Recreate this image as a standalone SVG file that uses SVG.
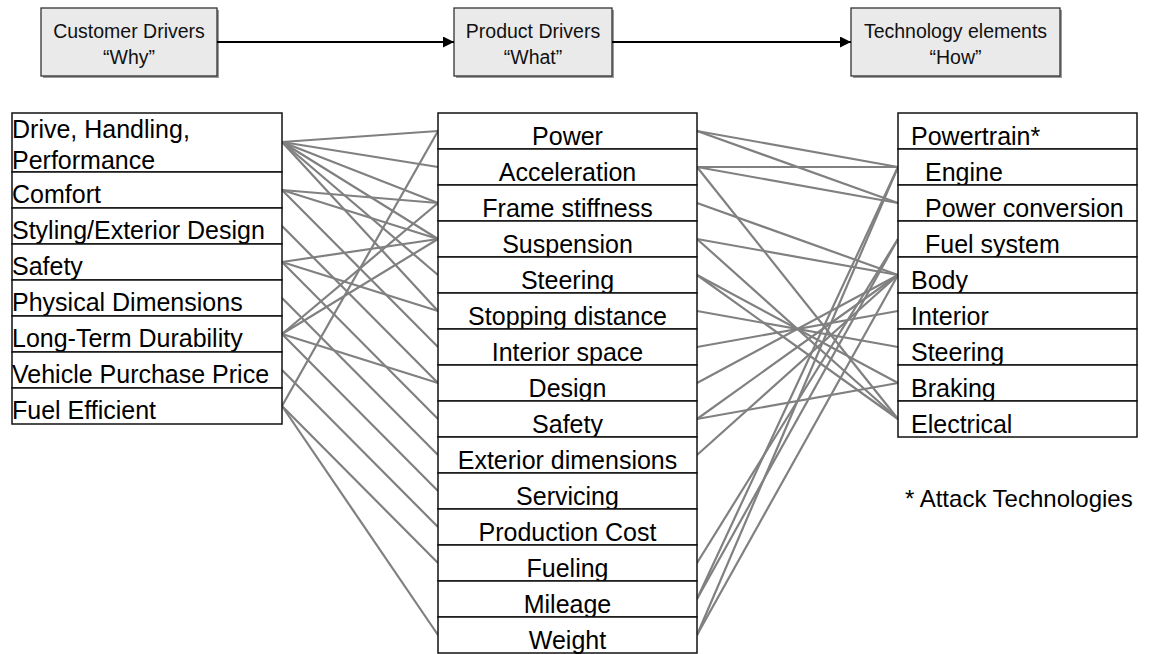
<svg xmlns="http://www.w3.org/2000/svg" width="1151" height="654" viewBox="0 0 1151 654">
  <style>
    .hdr { fill: #eaeaea; stroke: #333; stroke-width: 1.3; }
    .hdr-shadow { fill: #9a9a9a; }
    .hdr-text { font-family: "Liberation Sans", Arial, sans-serif; font-size: 19.5px; fill: #111; text-anchor: middle; }
    .cell { fill: #fff; stroke: #111; stroke-width: 1.5; }
    .lbl { font-family: "Liberation Sans", Arial, sans-serif; font-size: 25px; fill: #000; }
    .mid { text-anchor: middle; }
    .flow { stroke: #000; stroke-width: 2; fill: none; }
    .link { stroke: #808080; stroke-width: 2.2; fill: none; }
  </style>
  <defs>
    <marker id="arrow" viewBox="0 0 10 10" refX="10" refY="5" markerWidth="5.5" markerHeight="5.5" orient="auto" markerUnits="strokeWidth">
      <path d="M0,0 L10,5 L0,10 Z" fill="#000"/>
    </marker>
  </defs>
  <rect width="1151" height="654" fill="#fff"/>

  <!-- column headers -->
  <g id="hdr-why">
    <rect class="hdr-shadow" x="43" y="10" width="176" height="68"/>
    <rect class="hdr" x="41" y="8" width="176" height="68"/>
    <text class="hdr-text" x="129" y="38">Customer Drivers</text>
    <text class="hdr-text" x="129" y="64">“Why”</text>
  </g>
  <g id="hdr-what">
    <rect class="hdr-shadow" x="456" y="10" width="158" height="68"/>
    <rect class="hdr" x="454" y="8" width="158" height="68"/>
    <text class="hdr-text" x="533" y="38">Product Drivers</text>
    <text class="hdr-text" x="533" y="64">“What”</text>
  </g>
  <g id="hdr-how">
    <rect class="hdr-shadow" x="853" y="10" width="209" height="68"/>
    <rect class="hdr" x="851" y="8" width="209" height="68"/>
    <text class="hdr-text" x="955.5" y="38">Technology elements</text>
    <text class="hdr-text" x="955.5" y="64">“How”</text>
  </g>

  <!-- header flow arrows -->
  <g id="flow-arrows">
    <line class="flow" x1="217" y1="42" x2="454" y2="42" marker-end="url(#arrow)"/>
    <line class="flow" x1="612" y1="42" x2="851" y2="42" marker-end="url(#arrow)"/>
  </g>

  <!-- mapping links -->
  <g id="links">
    <!-- customer drivers to product drivers -->
    <line class="link" x1="282" y1="142" x2="438" y2="131"/>
    <line class="link" x1="282" y1="142" x2="438" y2="167"/>
    <line class="link" x1="282" y1="142" x2="438" y2="203"/>
    <line class="link" x1="282" y1="142" x2="438" y2="239"/>
    <line class="link" x1="282" y1="142" x2="438" y2="275"/>
    <line class="link" x1="282" y1="142" x2="438" y2="311"/>
    <line class="link" x1="282" y1="190" x2="438" y2="203"/>
    <line class="link" x1="282" y1="190" x2="438" y2="239"/>
    <line class="link" x1="282" y1="190" x2="438" y2="347"/>
    <line class="link" x1="282" y1="226" x2="438" y2="383"/>
    <line class="link" x1="282" y1="262" x2="438" y2="239"/>
    <line class="link" x1="282" y1="262" x2="438" y2="311"/>
    <line class="link" x1="282" y1="262" x2="438" y2="419"/>
    <line class="link" x1="282" y1="298" x2="438" y2="455"/>
    <line class="link" x1="282" y1="334" x2="438" y2="203"/>
    <line class="link" x1="282" y1="334" x2="438" y2="239"/>
    <line class="link" x1="282" y1="334" x2="438" y2="383"/>
    <line class="link" x1="282" y1="334" x2="438" y2="491"/>
    <line class="link" x1="282" y1="370" x2="438" y2="527"/>
    <line class="link" x1="282" y1="406" x2="438" y2="131"/>
    <line class="link" x1="282" y1="406" x2="438" y2="563"/>
    <line class="link" x1="282" y1="406" x2="438" y2="635"/>
    <!-- product drivers to technology elements -->
    <line class="link" x1="697" y1="131" x2="898" y2="167"/>
    <line class="link" x1="697" y1="131" x2="898" y2="203"/>
    <line class="link" x1="697" y1="167" x2="898" y2="167"/>
    <line class="link" x1="697" y1="167" x2="898" y2="203"/>
    <line class="link" x1="697" y1="167" x2="898" y2="419"/>
    <line class="link" x1="697" y1="203" x2="898" y2="275"/>
    <line class="link" x1="697" y1="239" x2="898" y2="275"/>
    <line class="link" x1="697" y1="239" x2="898" y2="419"/>
    <line class="link" x1="697" y1="275" x2="898" y2="383"/>
    <line class="link" x1="697" y1="275" x2="898" y2="419"/>
    <line class="link" x1="697" y1="311" x2="898" y2="347"/>
    <line class="link" x1="697" y1="347" x2="898" y2="311"/>
    <line class="link" x1="697" y1="383" x2="898" y2="275"/>
    <line class="link" x1="697" y1="419" x2="898" y2="275"/>
    <line class="link" x1="697" y1="419" x2="898" y2="383"/>
    <line class="link" x1="697" y1="455" x2="898" y2="275"/>
    <line class="link" x1="697" y1="563" x2="898" y2="239"/>
    <line class="link" x1="697" y1="599" x2="898" y2="167"/>
    <line class="link" x1="697" y1="599" x2="898" y2="239"/>
    <line class="link" x1="697" y1="635" x2="898" y2="167"/>
    <line class="link" x1="697" y1="635" x2="898" y2="275"/>
  </g>

  <!-- customer drivers -->
  <g id="customer-drivers">
    <g id="cd-drive"><rect class="cell" x="12" y="113" width="270" height="59"/><text class="lbl" x="12" y="138">Drive, Handling,</text><text class="lbl" x="12" y="169">Performance</text></g>
    <g id="cd-comfort"><rect class="cell" x="12" y="172" width="270" height="36"/><text class="lbl" x="12" y="203">Comfort</text></g>
    <g id="cd-styling"><rect class="cell" x="12" y="208" width="270" height="36"/><text class="lbl" x="12" y="239">Styling/Exterior Design</text></g>
    <g id="cd-safety"><rect class="cell" x="12" y="244" width="270" height="36"/><text class="lbl" x="12" y="275">Safety</text></g>
    <g id="cd-dimensions"><rect class="cell" x="12" y="280" width="270" height="36"/><text class="lbl" x="12" y="311">Physical Dimensions</text></g>
    <g id="cd-durability"><rect class="cell" x="12" y="316" width="270" height="36"/><text class="lbl" x="12" y="347">Long-Term Durability</text></g>
    <g id="cd-price"><rect class="cell" x="12" y="352" width="270" height="36"/><text class="lbl" x="12" y="383">Vehicle Purchase Price</text></g>
    <g id="cd-fuel"><rect class="cell" x="12" y="388" width="270" height="36"/><text class="lbl" x="12" y="419">Fuel Efficient</text></g>
  </g>

  <!-- product drivers -->
  <g id="product-drivers">
    <g id="pd-power"><rect class="cell" x="438" y="113" width="259" height="36"/><text class="lbl mid" x="567.5" y="145">Power</text></g>
    <g id="pd-acceleration"><rect class="cell" x="438" y="149" width="259" height="36"/><text class="lbl mid" x="567.5" y="181">Acceleration</text></g>
    <g id="pd-frame"><rect class="cell" x="438" y="185" width="259" height="36"/><text class="lbl mid" x="567.5" y="217">Frame stiffness</text></g>
    <g id="pd-suspension"><rect class="cell" x="438" y="221" width="259" height="36"/><text class="lbl mid" x="567.5" y="253">Suspension</text></g>
    <g id="pd-steering"><rect class="cell" x="438" y="257" width="259" height="36"/><text class="lbl mid" x="567.5" y="289">Steering</text></g>
    <g id="pd-stopping"><rect class="cell" x="438" y="293" width="259" height="36"/><text class="lbl mid" x="567.5" y="325">Stopping distance</text></g>
    <g id="pd-interior"><rect class="cell" x="438" y="329" width="259" height="36"/><text class="lbl mid" x="567.5" y="361">Interior space</text></g>
    <g id="pd-design"><rect class="cell" x="438" y="365" width="259" height="36"/><text class="lbl mid" x="567.5" y="397">Design</text></g>
    <g id="pd-safety"><rect class="cell" x="438" y="401" width="259" height="36"/><text class="lbl mid" x="567.5" y="433">Safety</text></g>
    <g id="pd-exterior"><rect class="cell" x="438" y="437" width="259" height="36"/><text class="lbl mid" x="567.5" y="469">Exterior dimensions</text></g>
    <g id="pd-servicing"><rect class="cell" x="438" y="473" width="259" height="36"/><text class="lbl mid" x="567.5" y="505">Servicing</text></g>
    <g id="pd-cost"><rect class="cell" x="438" y="509" width="259" height="36"/><text class="lbl mid" x="567.5" y="541">Production Cost</text></g>
    <g id="pd-fueling"><rect class="cell" x="438" y="545" width="259" height="36"/><text class="lbl mid" x="567.5" y="577">Fueling</text></g>
    <g id="pd-mileage"><rect class="cell" x="438" y="581" width="259" height="36"/><text class="lbl mid" x="567.5" y="613">Mileage</text></g>
    <g id="pd-weight"><rect class="cell" x="438" y="617" width="259" height="36"/><text class="lbl mid" x="567.5" y="649">Weight</text></g>
  </g>

  <!-- technology elements -->
  <g id="technology-elements">
    <g id="te-powertrain"><rect class="cell" x="898" y="113" width="239" height="36"/><text class="lbl" x="911" y="145">Powertrain*</text></g>
    <g id="te-engine"><rect class="cell" x="898" y="149" width="239" height="36"/><text class="lbl" x="925" y="181">Engine</text></g>
    <g id="te-conversion"><rect class="cell" x="898" y="185" width="239" height="36"/><text class="lbl" x="925" y="217">Power conversion</text></g>
    <g id="te-fuel"><rect class="cell" x="898" y="221" width="239" height="36"/><text class="lbl" x="925" y="253">Fuel system</text></g>
    <g id="te-body"><rect class="cell" x="898" y="257" width="239" height="36"/><text class="lbl" x="911" y="289">Body</text></g>
    <g id="te-interior"><rect class="cell" x="898" y="293" width="239" height="36"/><text class="lbl" x="911" y="325">Interior</text></g>
    <g id="te-steering"><rect class="cell" x="898" y="329" width="239" height="36"/><text class="lbl" x="911" y="361">Steering</text></g>
    <g id="te-braking"><rect class="cell" x="898" y="365" width="239" height="36"/><text class="lbl" x="911" y="397">Braking</text></g>
    <g id="te-electrical"><rect class="cell" x="898" y="401" width="239" height="36"/><text class="lbl" x="911" y="433">Electrical</text></g>
  </g>

  <text id="footnote" class="lbl" x="905" y="507" style="font-size:24px">* Attack Technologies</text>
</svg>
